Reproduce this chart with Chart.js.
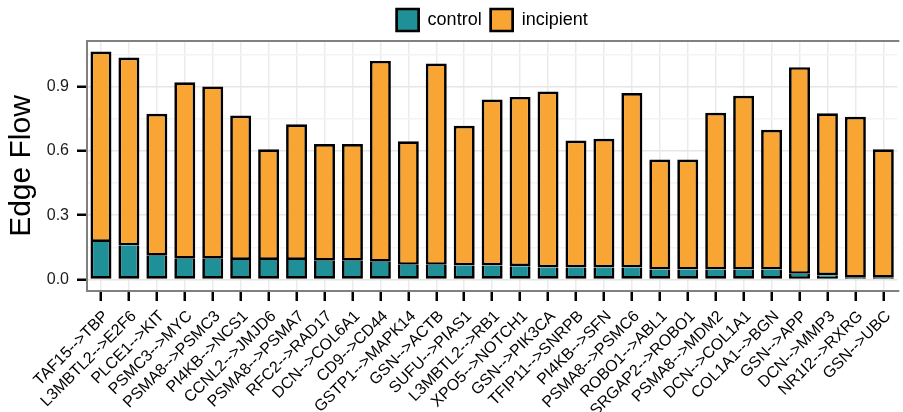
<!DOCTYPE html>
<html>
<head>
<meta charset="utf-8">
<script src="https://cdn.jsdelivr.net/npm/chart.js@4"></script>
<style>
  html, body { margin: 0; padding: 0; background: #fff; }
  #wrap { width: 903px; height: 412px; }
</style>
</head>
<body>
<div id="wrap"><canvas id="graficoEdges" width="903" height="412"></canvas></div>
<script>
// pares de genes (eje x)
const aristas = [
    "TAF15-->TBP", "L3MBTL2-->E2F6", "PLCE1-->KIT", "PSMC3-->MYC", "PSMA8-->PSMC3",
    "PI4KB-->NCS1", "CCNL2-->JMJD6", "PSMA8-->PSMA7", "RFC2-->RAD17", "DCN-->COL6A1",
    "CD9-->CD44", "GSTP1-->MAPK14", "GSN-->ACTB", "SUFU-->PIAS1", "L3MBTL2-->RB1",
    "XPO5-->NOTCH1", "GSN-->PIK3CA", "TFIP11-->SNRPB", "PI4KB-->SFN", "PSMA8-->PSMC6",
    "ROBO1-->ABL1", "SRGAP2-->ROBO1", "PSMA8-->MDM2", "DCN-->COL1A1", "COL1A1-->BGN",
    "GSN-->APP", "DCN-->MMP3", "NR1I2-->RXRG", "GSN-->UBC",
];
const control = [
    0.175, 0.159, 0.111, 0.097, 0.097, 0.091, 0.091, 0.091, 0.087, 0.087,
    0.083, 0.068, 0.068, 0.065, 0.065, 0.062, 0.056, 0.056, 0.056, 0.056,
    0.046, 0.046, 0.046, 0.046, 0.046, 0.026, 0.020, 0.008, 0.008,
];
const incipient = [
    0.889, 0.877, 0.662, 0.823, 0.804, 0.674, 0.517, 0.633, 0.545, 0.545,
    0.937, 0.577, 0.940, 0.652, 0.775, 0.790, 0.821, 0.592, 0.601, 0.814,
    0.514, 0.514, 0.732, 0.811, 0.653, 0.965, 0.756, 0.751, 0.600,
];
// 0.0, 0.3, 0.6, 0.9 con etiqueta; los intermedios solo como rejilla menor
const yTicks = [0, 0.15, 0.3, 0.45, 0.6, 0.75, 0.9, 1.05];
const yLabels = ["0.0", "", "0.3", "", "0.6", "", "0.9", ""];

const fuente = "'Liberation Sans', Arial, Helvetica, sans-serif";

const bordePanel = {
    id: "bordePanel",
    afterDraw(chart) {
        const a = chart.chartArea;
        const ctx = chart.ctx;
        ctx.save();
        ctx.strokeStyle = "#808080";
        ctx.lineWidth = 2;
        ctx.beginPath();
        ctx.moveTo(a.right + 2, a.top);
        ctx.lineTo(a.left, a.top);
        ctx.lineTo(a.left, a.bottom);
        ctx.lineTo(a.right + 2, a.bottom);
        ctx.stroke();
        ctx.restore();
    },
};

const ctx = document.getElementById("graficoEdges").getContext("2d");
new Chart(ctx, {
    type: "bar",
    data: {
        labels: aristas,
        datasets: [
            {
                label: "control",
                data: control,
                backgroundColor: "#1f9098",
                borderColor: "#000",
                borderWidth: 2.7,
                borderSkipped: "top",
                inflateAmount: 0,
            },
            {
                label: "incipient",
                data: incipient,
                backgroundColor: "#f9a533",
                borderColor: "#000",
                borderWidth: 2.7,
                borderSkipped: false,
                inflateAmount: 0,
            },
        ],
    },
    options: {
        responsive: false,
        animation: false,
        layout: { padding: { left: 0, right: 0, top: 0, bottom: 0 } },
        datasets: { bar: { categoryPercentage: 1, barPercentage: 0.75 } },
        plugins: {
            tooltip: { enabled: false },
            legend: {
                position: "top",
                fullSize: false,
                labels: {
                    boxWidth: 22,
                    boxHeight: 22,
                    padding: 9,
                    color: "#000",
                    font: { family: fuente, size: 18 },
                },
            },
        },
        scales: {
            x: {
                stacked: true,
                afterFit(scale) { scale.height = 121; },
                grid: {
                    offset: false,
                    color: "#ebebeb",
                    lineWidth: 1.5,
                    tickColor: "#000",
                    tickWidth: 2.5,
                    tickLength: 10,
                },
                border: { display: false },
                ticks: {
                    autoSkip: false,
                    minRotation: 45,
                    maxRotation: 45,
                    padding: 6,
                    labelOffset: 5,
                    color: "#000",
                    font: { family: fuente, size: 16 },
                },
            },
            y: {
                stacked: true,
                min: -0.054,
                max: 1.113,
                afterFit(scale) { scale.width = 87; },
                afterBuildTicks(scale) {
                    scale.ticks = yTicks.map((v) => ({ value: v }));
                },
                grid: {
                    color: (c) => (c.index % 2 === 0 ? "#e6e6e6" : "#f4f4f4"),
                    lineWidth: 1.5,
                    tickColor: (c) => (c.index % 2 === 0 ? "#000" : "rgba(0,0,0,0)"),
                    tickWidth: 2.5,
                    tickLength: 10,
                },
                border: { display: false },
                ticks: {
                    padding: 8,
                    color: "#1a1a1a",
                    font: { family: fuente, size: 16 },
                    callback: (v, i) => yLabels[i],
                },
                title: {
                    display: true,
                    text: "Edge Flow",
                    color: "#000",
                    padding: { top: 4, bottom: 0 },
                    font: { family: fuente, size: 30 },
                },
            },
        },
    },
    plugins: [bordePanel],
});
</script>
</body>
</html>
